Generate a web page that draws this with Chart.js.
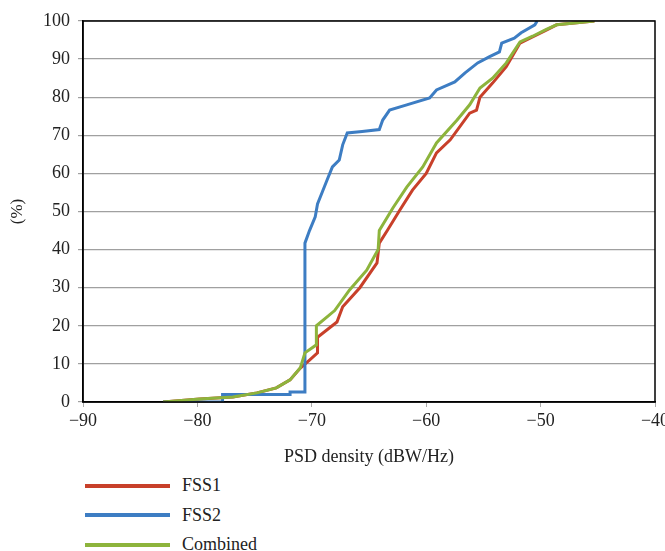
<!DOCTYPE html>
<html>
<head>
<meta charset="utf-8">
<script src="https://cdn.jsdelivr.net/npm/chart.js@4/dist/chart.umd.min.js"></script>
<style>
  body { margin: 0; overflow: hidden; background: #fff; font-family: "Liberation Serif", "DejaVu Serif", serif; }
  #wrap { position: relative; width: 680px; height: 551px; }
  #legend { position: absolute; left: 85px; top: 471px; }
  .item { height: 29.5px; display: flex; align-items: center; font-size: 18px; color: #222; }
  .swatch { width: 85px; height: 4px; margin-right: 12px; }
</style>
</head>
<body>
<div id="wrap">
  <canvas id="psdChart" width="680" height="470"></canvas>
  <div id="legend"></div>
</div>
<script>
// axis ticks
const xTicks = [-90, -80, -70, -60, -50, -40];
const yTicks = [0, 10, 20, 30, 40, 50, 60, 70, 80, 90, 100];

// FSS1 CDF
const fss1X = [-83.0, -79.8, -76.9, -74.8, -73.1, -71.9, -71.0, -70.2, -69.5, -69.5, -67.8, -67.3, -65.8, -64.3, -64.1, -63.4, -62.3, -61.2, -60.0, -59.1, -57.9, -56.2, -55.6, -55.3, -54.2, -53.0, -51.8, -50.7, -49.5, -48.6, -45.3];
const fss1Y = [0, 0.8, 1.3, 2.4, 3.7, 5.8, 8.9, 11, 12.9, 17, 21, 25, 30, 36.5, 41.7, 45, 50.4, 55.6, 60, 65.4, 68.8, 75.8, 76.6, 80, 83.7, 88, 94.2, 95.8, 97.6, 99, 100];

// FSS2 CDF
const fss2X = [-83.0, -77.8, -77.8, -71.9, -71.9, -70.6, -70.6, -70.2, -69.7, -69.5, -69.1, -68.7, -68.2, -67.6, -67.3, -66.9, -65.6, -64.1, -63.8, -63.2, -61.7, -59.7, -59.1, -57.5, -56.6, -55.5, -54.5, -53.6, -53.4, -52.3, -51.7, -50.5, -50.3];
const fss2Y = [0, 0, 2, 2, 2.6, 2.6, 41.7, 45, 48.6, 52, 55, 58, 61.7, 63.5, 67.5, 70.6, 71, 71.5, 74, 76.6, 78, 79.8, 81.9, 84, 86.4, 89, 90.6, 91.9, 94.2, 95.5, 96.9, 99, 100];

// Combined CDF
const combX = [-83.0, -79.8, -76.9, -74.8, -73.1, -71.9, -71.0, -70.6, -69.6, -69.6, -68.0, -66.7, -65.2, -64.2, -64.1, -62.9, -61.7, -60.3, -59.1, -57.3, -56.2, -55.3, -54.2, -53.0, -51.8, -50.7, -49.5, -48.6, -45.3];
const combY = [0, 0.8, 1.3, 2.4, 3.7, 5.8, 9, 12.9, 15, 20, 24, 29.4, 34.6, 40, 45, 51, 56.4, 61.7, 68, 74, 78, 82.4, 85, 89, 94.5, 96, 97.8, 99, 100];

const seriesNames = ["FSS1", "FSS2", "Combined"];
const seriesColors = ["#C8402A", "#3D7DC3", "#8DB43C"];

function toPoints(xs, ys) {
  return xs.map((x, i) => ({ x: x, y: ys[i] }));
}

const serif = "'Liberation Serif', 'DejaVu Serif', serif";

const frame = {
  id: 'frame',
  afterDraw(chart) {
    const a = chart.chartArea, ctx = chart.ctx;
    ctx.save();
    ctx.strokeStyle = '#000';
    ctx.lineWidth = 1.5;
    ctx.strokeRect(a.left, a.top, a.right - a.left, a.bottom - a.top);
    ctx.restore();
  }
};

const ctx = document.getElementById('psdChart').getContext('2d');
const psdChart = new Chart(ctx, {
  type: 'line',
  data: {
    datasets: [
      { label: seriesNames[2], data: toPoints(combX, combY), borderColor: seriesColors[2] },
      { label: seriesNames[1], data: toPoints(fss2X, fss2Y), borderColor: seriesColors[1] },
      { label: seriesNames[0], data: toPoints(fss1X, fss1Y), borderColor: seriesColors[0] }
    ].map(d => Object.assign(d, { borderWidth: 3, pointRadius: 0, tension: 0, fill: false }))
  },
  options: {
    responsive: false,
    animation: false,
    layout: { padding: { top: 21, right: 25, left: 0, bottom: 0 } },
    plugins: { legend: { display: false }, tooltip: { enabled: false } },
    scales: {
      x: {
        type: 'linear',
        min: -90, max: -40,
        afterBuildTicks: s => { s.ticks = xTicks.map(v => ({ value: v })); },
        afterFit: s => { s.height = 68; },
        ticks: {
          callback: v => String(v).replace('-', '\u2212'),
          color: '#222', font: { family: serif, size: 18 }, padding: 3, maxRotation: 0
        },
        grid: { drawOnChartArea: false, color: '#aaa', tickLength: 5 },
        border: { color: '#000', width: 1.5 },
        title: { display: true, text: 'PSD density (dBW/Hz)', color: '#222', font: { family: serif, size: 18 }, padding: { top: 0, bottom: 2 } }
      },
      y: {
        min: 0, max: 100,
        afterBuildTicks: s => { s.ticks = yTicks.map(v => ({ value: v })); },
        afterFit: s => { s.width = 83; },
        ticks: { color: '#222', font: { family: serif, size: 18 }, padding: 8 },
        grid: { color: '#a0a0a0', lineWidth: 1.2, tickLength: 5 },
        border: { color: '#000', width: 1.5 },
        title: { display: true, text: '(%)', color: '#222', font: { family: serif, size: 17 }, padding: { top: 7, bottom: 0 } }
      }
    }
  },
  plugins: [frame]
});

// legend below the chart, stacked vertically
const legend = document.getElementById('legend');
seriesNames.forEach((name, i) => {
  const item = document.createElement('div');
  item.className = 'item';
  item.innerHTML = `<span class="swatch" style="background:${seriesColors[i]}"></span>${name}`;
  legend.appendChild(item);
});
</script>
</body>
</html>
